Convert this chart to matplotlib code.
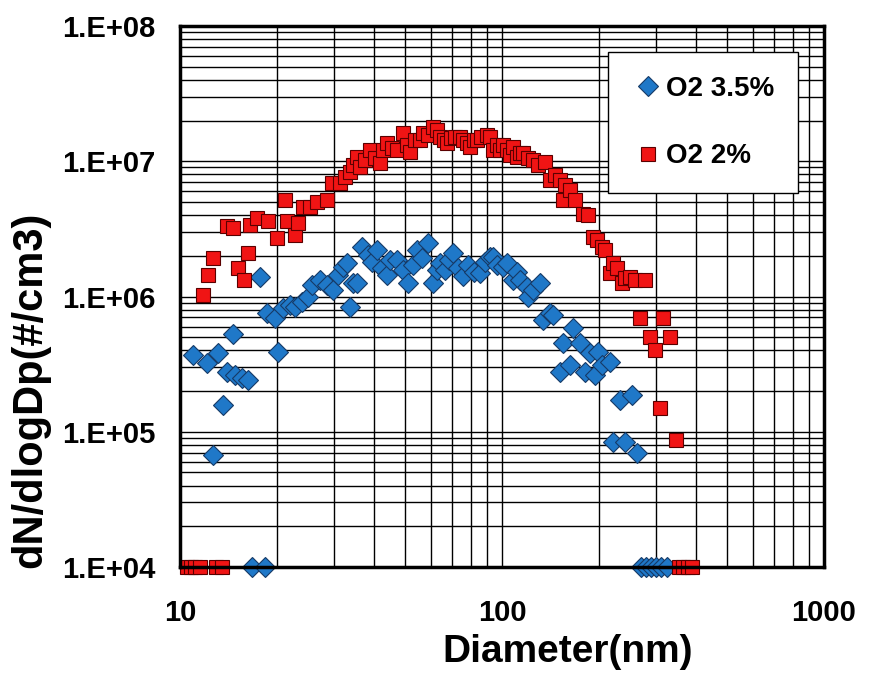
import matplotlib
matplotlib.use("Agg")
import matplotlib.pyplot as plt
import numpy as np
from matplotlib.ticker import FixedLocator, FixedFormatter, LogLocator, NullFormatter

plt.rcParams["font.family"] = ["Liberation Sans", "DejaVu Sans"]
plt.rcParams["font.weight"] = "bold"

# O2 3.5 %  (diamonds)
d_o2_35 = [16.7, 18.4,
           11.0, 12.1, 12.7, 13.1, 13.6, 14.0, 14.6, 14.8, 15.6, 16.3,
           17.7, 18.6, 19.7, 20.2, 20.9, 22.0, 22.8, 23.9, 25.0, 25.7,
           27.2, 28.6, 29.9, 31.0, 32.1, 33.0, 33.7, 34.5, 35.5, 36.8,
           38.4, 39.5, 40.9, 42.4, 44.0, 44.9, 47.2, 49.3, 51.1, 52.9,
           54.5, 56.4, 58.9, 61.1, 62.8, 64.2, 66.5, 68.5, 70.5, 73.0,
           75.7, 78.4, 81.9, 85.5, 88.6, 91.8, 93.8, 96.5, 100.7, 103.6,
           108.2, 111.3, 113.7, 119.6, 120.5, 124.9, 131.2, 134.1, 140.9, 144.0,
           151.4, 154.7, 162.7, 166.2, 174.7, 181.1, 187.7, 194.5, 198.7, 204.5,
           216.5, 221.2, 232.6, 241.0, 253.3, 262.6,
           270, 280, 290, 300, 312, 325]
n_o2_35 = [1e4, 1e4,
           3.7e5, 3.2e5, 6.7e4, 3.8e5, 1.58e5, 2.77e5, 5.3e5, 2.63e5, 2.5e5, 2.41e5,
           1.39e6, 7.55e5, 6.9e5, 3.9e5, 8.2e5, 8.65e5, 8.4e5, 9.1e5, 9.9e5, 1.22e6,
           1.32e6, 1.22e6, 1.12e6, 1.44e6, 1.65e6, 1.77e6, 8.4e5, 1.26e6, 1.26e6, 2.32e6,
           2.03e6, 1.8e6, 2.2e6, 1.62e6, 1.44e6, 1.86e6, 1.86e6, 1.57e6, 1.26e6, 1.71e6,
           2.2e6, 1.93e6, 2.49e6, 1.26e6, 1.57e6, 1.77e6, 1.57e6, 1.86e6, 2.1e6, 1.62e6,
           1.42e6, 1.71e6, 1.52e6, 1.49e6, 1.8e6, 1.96e6, 1.96e6, 1.71e6, 1.65e6, 1.77e6,
           1.32e6, 1.52e6, 1.32e6, 1.18e6, 9.9e5, 1.12e6, 1.26e6, 6.7e5, 7.55e5, 7.3e5,
           2.77e5, 4.5e5, 3.1e5, 5.85e5, 4.5e5, 2.77e5, 3.8e5, 2.63e5, 3.9e5, 3.1e5,
           3.3e5, 8.4e4, 1.72e5, 8.4e4, 1.87e5, 7.0e4,
           1e4, 1e4, 1e4, 1e4, 1e4, 1e4]

# O2 2 %  (squares)
d_o2_2 = [10.5, 10.8, 11.1, 11.5, 12.9, 13.5,
          11.8, 12.2, 12.7, 14.0, 14.6, 15.1, 15.8, 16.3, 16.5, 17.3,
          18.8, 20.0, 21.2, 21.5, 22.8, 23.3, 24.1, 25.3, 26.6, 28.6,
          29.7, 31.4, 32.5, 33.7, 34.5, 35.5, 36.2, 37.6, 38.9, 40.3,
          41.8, 42.7, 44.0, 45.6, 47.2, 49.3, 50.7, 51.8, 53.7, 55.6,
          56.9, 58.9, 61.1, 62.8, 64.2, 66.1, 67.5, 69.5, 71.5, 74.1,
          75.7, 77.9, 79.6, 81.9, 83.6, 86.1, 89.8, 91.8, 93.8, 96.5,
          98.6, 100.7, 103.6, 105.9, 108.2, 111.3, 113.7, 116.2, 120.4, 124.9,
          129.4, 136.0, 140.9, 146.1, 151.4, 154.7, 157.0, 162.7, 168.6, 178.5,
          185.0, 191.7, 197.2, 204.5, 208.9, 216.5, 221.2, 227.6, 235.9, 241.0,
          249.7, 258.8, 268.3, 278.1, 288.2, 298.7, 309.5, 316.2, 332.4, 347.1,
          355, 365, 377, 389]
n_o2_2 = [1e4, 1e4, 1e4, 1e4, 1e4, 1e4,
          1.03e6, 1.44e6, 1.93e6, 3.3e6, 3.2e6, 1.62e6, 1.32e6, 2.1e6, 3.4e6, 3.8e6,
          3.6e6, 2.7e6, 5.2e6, 3.6e6, 2.85e6, 3.5e6, 4.6e6, 4.6e6, 5.0e6, 5.2e6,
          6.9e6, 6.9e6, 7.65e6, 8.3e6, 9.4e6, 1.07e7, 9.1e6, 1.02e7, 1.21e7, 1.06e7,
          9.7e6, 1.21e7, 1.36e7, 1.25e7, 1.21e7, 1.62e7, 1.32e7, 1.17e7, 1.44e7, 1.44e7,
          1.62e7, 1.56e7, 1.79e7, 1.70e7, 1.51e7, 1.44e7, 1.36e7, 1.49e7, 1.51e7, 1.51e7,
          1.44e7, 1.36e7, 1.27e7, 1.44e7, 1.44e7, 1.51e7, 1.56e7, 1.51e7, 1.21e7, 1.32e7,
          1.21e7, 1.32e7, 1.21e7, 1.11e7, 1.27e7, 1.07e7, 1.15e7, 1.15e7, 1.06e7, 1.02e7,
          9.4e6, 9.9e6, 7.3e6, 7.9e6, 7.3e6, 5.2e6, 6.7e6, 6.1e6, 5.2e6, 4.1e6,
          4.0e6, 2.75e6, 2.6e6, 2.32e6, 2.2e6, 1.49e6, 1.77e6, 1.62e6, 1.26e6, 1.37e6,
          1.39e6, 1.32e6, 6.9e5, 1.32e6, 5.0e5, 4.0e5, 1.5e5, 6.9e5, 5.0e5, 8.7e4,
          1e4, 1e4, 1e4, 1e4]

x_ticks = [10, 100, 1000]
x_labels = ["10", "100", "1000"]
y_ticks = [1e4, 1e5, 1e6, 1e7, 1e8]
y_labels = ["1.E+04", "1.E+05", "1.E+06", "1.E+07", "1.E+08"]


def main() -> None:
    fig = plt.figure(figsize=(8.69, 6.83), dpi=100)
    ax = fig.add_axes([180 / 869, 1 - 567 / 683, 644 / 869, 541 / 683])

    ax.set_xscale("log")
    ax.set_yscale("log")
    ax.set_xlim(10, 1000)
    ax.set_ylim(1e4, 1e8)

    ax.plot(d_o2_35, n_o2_35, ls="none", marker="D", ms=10,
            mfc="#1F78C8", mec="#163A66", mew=0.8, clip_on=False,
            label="O2 3.5%", zorder=3)
    ax.plot(d_o2_2, n_o2_2, ls="none", marker="s", ms=10.5,
            mfc="#F01414", mec="#5A0000", mew=0.8, clip_on=False,
            label="O2 2%", zorder=4)

    # ticks / grid
    ax.xaxis.set_major_locator(FixedLocator(x_ticks))
    ax.xaxis.set_major_formatter(FixedFormatter(x_labels))
    ax.yaxis.set_major_locator(FixedLocator(y_ticks))
    ax.yaxis.set_major_formatter(FixedFormatter(y_labels))
    sub = np.arange(2, 10)
    ax.xaxis.set_minor_locator(LogLocator(base=10, subs=sub, numticks=20))
    ax.yaxis.set_minor_locator(LogLocator(base=10, subs=sub, numticks=20))
    ax.xaxis.set_minor_formatter(NullFormatter())
    ax.yaxis.set_minor_formatter(NullFormatter())
    ax.grid(True, which="both", color="black", lw=1.0)
    ax.set_axisbelow(True)

    ax.tick_params(axis="both", which="both", length=0)
    ax.tick_params(axis="x", pad=23, labelsize=21)
    ax.tick_params(axis="y", pad=18, labelsize=21)
    for lab in ax.get_xticklabels() + ax.get_yticklabels():
        lab.set_fontweight("bold")

    for sp in ax.spines.values():
        sp.set_linewidth(2.5)
        sp.set_color("black")
        sp.set_zorder(5)

    ax.set_xlabel("Diameter(nm)", fontsize=28, fontweight="bold")
    ax.set_ylabel("dN/dlogDp(#/cm3)", fontsize=30, fontweight="bold")
    ax.xaxis.set_label_coords((568 - 180) / 644, (567 - 634) / 541)
    ax.yaxis.set_label_coords((50 - 180) / 644, (567 - 390) / 541)

    leg = ax.legend(loc="upper left", bbox_to_anchor=(608 / 869, 1 - 52 / 683),
                    bbox_transform=fig.transFigure, fontsize=20,
                    frameon=True, fancybox=False, framealpha=1,
                    edgecolor="black", borderpad=0.85, labelspacing=1.5,
                    handlelength=1.2, handletextpad=0.05, borderaxespad=0)
    leg.get_frame().set_linewidth(1.0)
    leg.set_zorder(6)
    for t in leg.get_texts():
        t.set_fontweight("bold")

    fig.savefig("out.png", dpi=100, facecolor="white")


if __name__ == "__main__":
    main()
